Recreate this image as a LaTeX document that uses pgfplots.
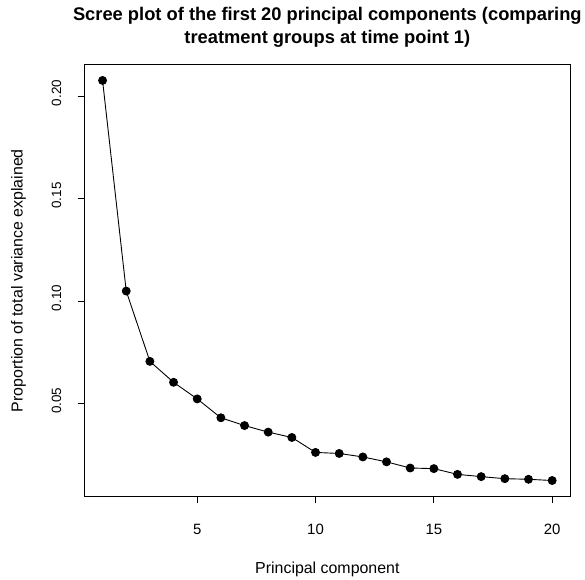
\documentclass[border=0pt]{standalone}
\usepackage{pgfplots}
\pgfplotsset{compat=1.18}
\usepackage{fontspec}
\setmainfont{Liberation Sans}
\begin{document}
\begin{tikzpicture}[x=1pt,y=1pt]
\begin{axis}[
  scale only axis,
  width=488pt, height=434pt,
  xmin=0.24, xmax=20.76,
  ymin=0.0047, ymax=0.2153,
  axis line style={line width=0.9pt},
  tick align=outside,
  major tick length=7pt,
  tick style={line width=0.8pt, black},
  xtick={5,10,15,20},
  ytick={0.05,0.10,0.15,0.20},
  xtick pos=left, ytick pos=left,
  /pgf/number format/assume math mode=true,
  yticklabel style={/pgf/number format/fixed,/pgf/number format/precision=2,/pgf/number format/fixed zerofill, rotate=90, anchor=south, font=\fontsize{13.5}{15}\selectfont, xshift=3pt, yshift=13pt},
  xticklabel style={font=\fontsize{15}{17}\selectfont, yshift=-17pt},
  scaled y ticks=false,
  xlabel={Principal component},
  ylabel={Proportion of total variance explained},
  xlabel style={font=\fontsize{16}{18}\selectfont, at={([yshift=-73pt]axis description cs:0.5,0)}, anchor=center},
  ylabel style={font=\fontsize{16}{18}\selectfont, at={([xshift=-66.5pt]axis description cs:0,0.5)}, anchor=center},
  title={\bfseries Scree plot of the first 20 principal components (comparing\\\bfseries treatment groups at time point 1)},
  title style={font=\fontsize{18.4}{23}\selectfont, align=center, yshift=8pt},
]
\addplot[black, line width=0.9pt, mark=*, mark size=4pt, mark options={fill=black}] coordinates {
(1,0.2076) (2,0.1049) (3,0.0706) (4,0.0604) (5,0.0523) (6,0.0431) (7,0.0393) (8,0.0361) (9,0.0335) (10,0.0262)
(11,0.0257) (12,0.0240) (13,0.0216) (14,0.0186) (15,0.0183) (16,0.0155) (17,0.0144) (18,0.0134) (19,0.0131) (20,0.0125)
};
\end{axis}
\path[use as bounding box] (-85,-80) rectangle (500,499);
\end{tikzpicture}
\end{document}
